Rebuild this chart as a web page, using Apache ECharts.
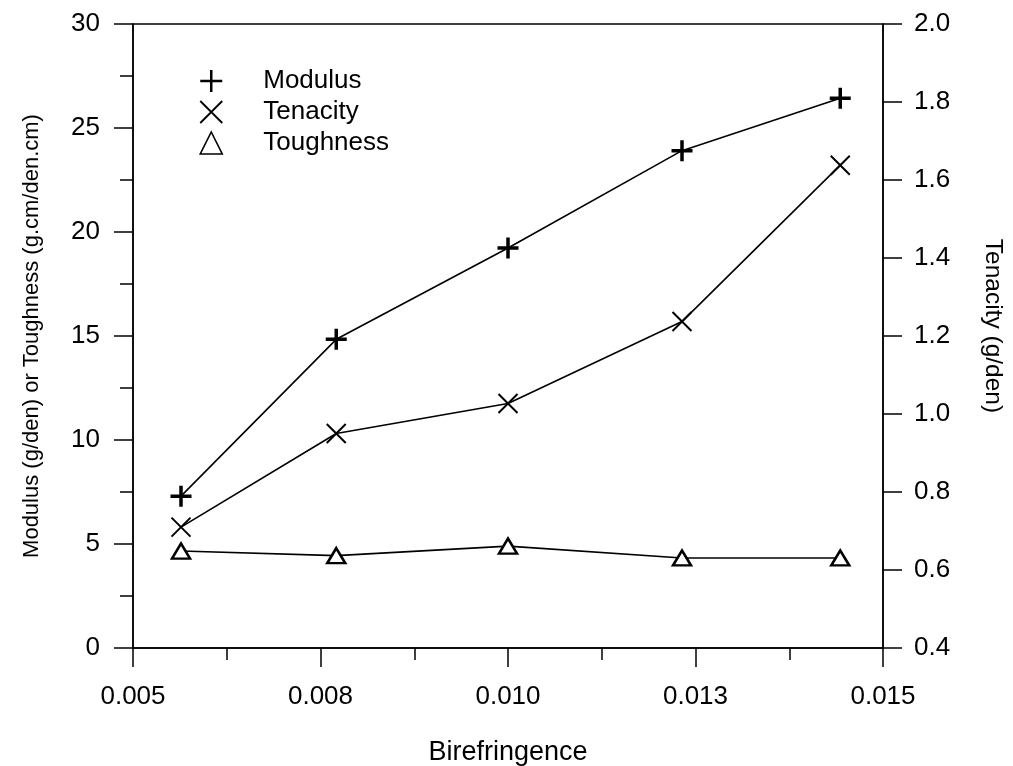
<!DOCTYPE html>
<html>
<head>
<meta charset="utf-8">
<script src="https://cdn.jsdelivr.net/npm/echarts@6/dist/echarts.min.js"></script>
<style>
  html, body { margin: 0; padding: 0; background: #fff; }
  #chart { width: 1013px; height: 766px; }
</style>
</head>
<body>
<div id="chart"></div>
<script>
// Birefringence of each fibre sample
const birefringence = [0.00564, 0.00771, 0.01000, 0.01232, 0.01443];
// Modulus (g/den), left axis
const modulus = [7.3, 14.84, 19.23, 23.91, 26.43];
// Tenacity (g/den), right axis
const tenacity = [0.71, 0.95, 1.027, 1.237, 1.638];
// Toughness (g.cm/den.cm), left axis
const toughness = [4.66, 4.44, 4.90, 4.33, 4.33];

// Printed labels of the major birefringence ticks (0.005 to 0.015, step 0.0025)
const xTickLabels = ['0.005', '0.008', '0.010', '0.013', '0.015'];

const FONT = "'Liberation Sans', Arial, sans-serif";
const plusIcon = 'path://M10,0V20M0,10H20';
const crossIcon = 'path://M0,0L20,20M20,0L0,20';

function pairs(xs, ys) {
  return xs.map((x, i) => [x, ys[i]]);
}

const chart = echarts.init(document.getElementById('chart'), null, { renderer: 'canvas' });

const axisLine = { show: true, lineStyle: { color: '#000', width: 1.5 } };

chart.setOption({
  animation: false,
  backgroundColor: '#fff',
  textStyle: { fontFamily: FONT, color: '#000' },
  grid: {
    left: 133, right: 130, top: 24, bottom: 118,
    outerBoundsMode: 'none',
    containLabel: false,
    show: true, borderColor: '#000', borderWidth: 1.5, backgroundColor: 'transparent'
  },
  legend: {
    orient: 'vertical',
    left: 194,
    top: 63,
    itemGap: 5,
    itemWidth: 22,
    itemHeight: 22,
    selectedMode: false,
    textStyle: { fontSize: 26, fontFamily: FONT, color: '#000', padding: [0, 0, 0, 36] },
    data: [
      { name: 'Modulus', icon: plusIcon, itemStyle: { color: '#000', borderColor: '#000', borderWidth: 2.5 } },
      { name: 'Tenacity', icon: crossIcon, itemStyle: { color: '#000', borderColor: '#000', borderWidth: 1.8 } },
      { name: 'Toughness', icon: 'triangle', itemStyle: { color: '#fff', borderColor: '#000', borderWidth: 1.6 } }
    ]
  },
  xAxis: {
    type: 'value',
    min: 0.005,
    max: 0.015,
    interval: 0.0025,
    name: 'Birefringence',
    nameLocation: 'middle',
    nameGap: 91,
    nameTextStyle: { fontSize: 27, fontFamily: FONT, color: '#000' },
    axisLine: axisLine,
    axisTick: { show: true, inside: false, length: 19, lineStyle: { color: '#000', width: 1.5 } },
    minorTick: { show: true, splitNumber: 2, length: 12, lineStyle: { color: '#000', width: 1.5 } },
    splitLine: { show: false },
    axisLabel: {
      margin: 36,
      fontSize: 26,
      fontFamily: FONT,
      color: '#000',
      formatter: v => xTickLabels[Math.round((v - 0.005) / 0.0025)]
    }
  },
  yAxis: [
    {
      type: 'value',
      position: 'left',
      min: 0,
      max: 30,
      interval: 5,
      name: 'Modulus (g/den) or Toughness (g.cm/den.cm)',
      nameLocation: 'middle',
      nameGap: 90,
      nameTextStyle: { fontSize: 22, fontFamily: FONT, color: '#000' },
      axisLine: axisLine,
      axisTick: { show: true, inside: false, length: 19, lineStyle: { color: '#000', width: 1.5 } },
      minorTick: { show: true, splitNumber: 2, length: 13, lineStyle: { color: '#000', width: 1.5 } },
      splitLine: { show: false },
      axisLabel: { margin: 33, fontSize: 26, fontFamily: FONT, color: '#000' }
    },
    {
      type: 'value',
      position: 'right',
      min: 0.4,
      max: 2.0,
      interval: 0.2,
      name: 'Tenacity (g/den)',
      nameLocation: 'middle',
      nameRotate: -90,
      nameGap: 97,
      nameTextStyle: { fontSize: 24.5, fontFamily: FONT, color: '#000', padding: [0, 20, 0, 0] },
      axisLine: axisLine,
      axisTick: { show: true, inside: false, length: 19, lineStyle: { color: '#000', width: 1.5 } },
      splitLine: { show: false },
      axisLabel: {
        margin: 31, fontSize: 26, fontFamily: FONT, color: '#000',
        formatter: v => v.toFixed(1)
      }
    }
  ],
  series: [
    {
      name: 'Modulus',
      type: 'line',
      yAxisIndex: 0,
      data: pairs(birefringence, modulus),
      symbol: plusIcon,
      symbolSize: 21,
      itemStyle: { color: '#000', borderColor: '#000', borderWidth: 3.5 },
      lineStyle: { color: '#000', width: 1.6 }
    },
    {
      name: 'Tenacity',
      type: 'line',
      yAxisIndex: 1,
      data: pairs(birefringence, tenacity),
      symbol: crossIcon,
      symbolSize: 19,
      itemStyle: { color: '#000', borderColor: '#000', borderWidth: 2 },
      lineStyle: { color: '#000', width: 1.6 }
    },
    {
      name: 'Toughness',
      type: 'line',
      yAxisIndex: 0,
      data: pairs(birefringence, toughness),
      symbol: 'triangle',
      symbolSize: [18, 15],
      itemStyle: { color: '#fff', borderColor: '#000', borderWidth: 2.5 },
      lineStyle: { color: '#000', width: 1.6 }
    }
  ]
});
</script>
</body>
</html>
